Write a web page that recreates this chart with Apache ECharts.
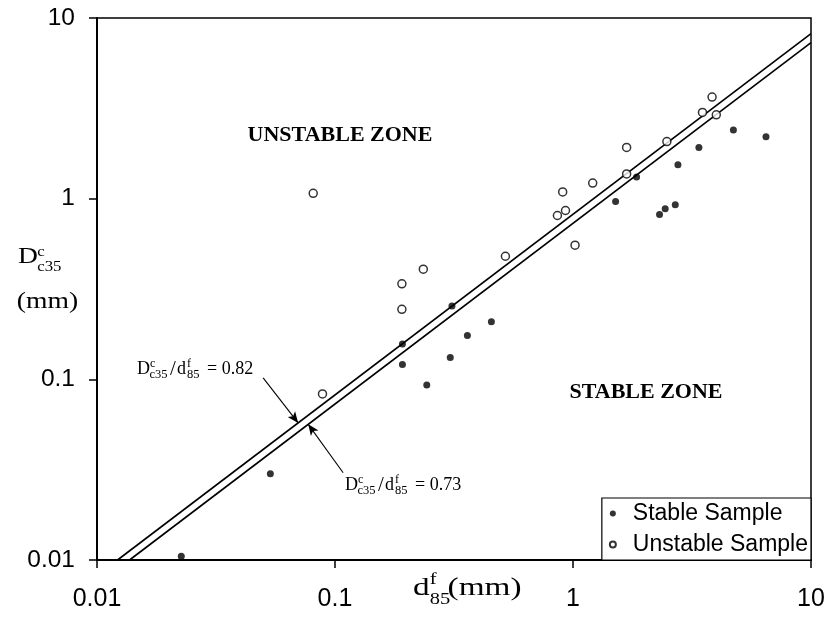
<!DOCTYPE html>
<html>
<head>
<meta charset="utf-8">
<script src="https://cdn.jsdelivr.net/npm/echarts@6/dist/echarts.min.js"></script>
<style>
  html, body { margin: 0; padding: 0; background: #fff; }
  #chart { width: 831px; height: 617px; }
</style>
</head>
<body>
<div id="chart"></div>
<script>
// Filter samples: fine-grain d85 (mm) against coarse-grain Dc35 (mm)
const stableX   = [0.0226, 0.0535, 0.192, 0.192, 0.243, 0.31, 0.305, 0.36, 0.454, 1.51, 1.85, 2.31, 2.44, 2.69, 2.76, 3.38, 4.72, 6.47];
const stableY   = [0.0105, 0.030, 0.157, 0.121, 0.093, 0.255, 0.132, 0.175, 0.208, 0.965, 1.32, 0.818, 0.88, 0.925, 1.54, 1.92, 2.40, 2.20];
const unstableX = [0.081, 0.0886, 0.191, 0.191, 0.235, 0.52, 0.86, 0.93, 0.905, 1.02, 1.21, 1.68, 1.68, 2.48, 3.50, 3.84, 4.00];
const unstableY = [1.07, 0.083, 0.338, 0.244, 0.407, 0.48, 0.807, 0.86, 1.09, 0.553, 1.22, 1.37, 1.92, 2.07, 3.00, 3.65, 2.91];

// Boundary ratios Dc35 / d85
const ratios = [0.82, 0.73];

// Axis tick labels (decades)
const xTickLabels = ['0.01', '0.1', '1', '10'];
const yTickLabels = ['0.01', '0.1', '1', '10'];

const seriesNames = ['Stable Sample', 'Unstable Sample'];

// Arrow annotations pointing at each boundary line: tail point and the x where the tip meets the line
const arrowNotes = [
  { tail: [0.0499, 0.1019], tipX: 0.070 },
  { tail: [0.1082, 0.0304], tipX: 0.0772 }
];

const SERIF = '"Liberation Serif", "Times New Roman", serif';
const SANS = '"Liberation Sans", Arial, sans-serif';
const AXIS_MIN = 0.01, AXIS_MAX = 10;

function zip(xs, ys) { return xs.map((x, i) => [x, ys[i]]); }
function decadeLabel(labels) {
  return v => labels[Math.round(Math.log10(v)) + 2] || '';
}

function t(text, x, y, size, extra) {
  return {
    type: 'text', x: x, y: y, silent: true,
    style: Object.assign({
      text: text, fontSize: size, fontFamily: SERIF, fill: '#000',
      align: 'left', verticalAlign: 'middle'
    }, extra || {})
  };
}

// "Dc35 / d85 = value" with stacked super/subscripts
function ratioLabel(x, y, value) {
  return {
    type: 'group', x: x, y: y,
    children: [
      t('D', 0, 0, 18),
      t('c', 13, -5, 12),
      t('c35', 12.5, 6, 12.5),
      t('/', 33, 0, 21),
      t('d', 40, 0, 18),
      t('f', 50, -5, 12),
      t('85', 50, 6, 12.5),
      t('= ' + value.toFixed(2), 70, 0, 18)
    ]
  };
}

const chart = echarts.init(document.getElementById('chart'), null, { renderer: 'canvas' });

const lineSeries = ratios.map((r, i) => ({
  type: 'line',
  name: 'ratio ' + r,
  data: [[AXIS_MIN / r, AXIS_MIN], [AXIS_MAX, AXIS_MAX * r]],
  showSymbol: false,
  symbol: 'none',
  lineStyle: { color: '#000', width: 1.6 },
  silent: true,
  z: 2,
  markLine: {
    silent: true,
    symbol: ['none', 'arrow'],
    symbolSize: [7, 11],
    label: { show: false },
    lineStyle: { color: '#000', width: 1.1, type: 'solid' },
    data: [[
      { coord: arrowNotes[i].tail },
      { coord: [arrowNotes[i].tipX, arrowNotes[i].tipX * r] }
    ]]
  }
}));

chart.setOption({
  animation: false,
  backgroundColor: '#fff',
  grid: {
    left: 97, right: 20, top: 18, bottom: 57,
    show: true, borderColor: '#000', borderWidth: 1.5, backgroundColor: 'transparent'
  },
  xAxis: {
    type: 'log', logBase: 10, min: AXIS_MIN, max: AXIS_MAX,
    axisLine: { show: true, lineStyle: { color: '#000', width: 2 } },
    axisTick: { show: true, inside: false, length: 8, lineStyle: { color: '#000', width: 1.5 } },
    minorTick: { show: false },
    splitLine: { show: false },
    axisLabel: {
      color: '#000', fontFamily: SANS, fontSize: 25, margin: 27,
      formatter: decadeLabel(xTickLabels)
    }
  },
  yAxis: {
    type: 'log', logBase: 10, min: AXIS_MIN, max: AXIS_MAX,
    axisLine: { show: true, lineStyle: { color: '#000', width: 2 } },
    axisTick: { show: true, inside: false, length: 8, lineStyle: { color: '#000', width: 1.5 } },
    minorTick: { show: false },
    splitLine: { show: false },
    axisLabel: {
      color: '#000', fontFamily: SANS, fontSize: 24.5, margin: 22,
      formatter: decadeLabel(yTickLabels)
    }
  },
  legend: {
    data: seriesNames,
    orient: 'vertical',
    right: 20, bottom: 57,
    padding: [4, 3, 4, 7],
    itemGap: 8,
    itemWidth: 26, itemHeight: 6,
    backgroundColor: '#fff',
    borderColor: '#000', borderWidth: 1.2, borderRadius: 0,
    textStyle: { color: '#000', fontFamily: SANS, fontSize: 23, padding: [0, 0, 0, 2] }
  },
  series: [
    ...lineSeries,
    {
      type: 'scatter', name: seriesNames[0],
      data: zip(stableX, stableY),
      symbol: 'circle', symbolSize: 7,
      itemStyle: { color: '#000' },
      z: 3
    },
    {
      type: 'scatter', name: seriesNames[1],
      data: zip(unstableX, unstableY),
      symbol: 'circle', symbolSize: 8,
      itemStyle: { color: '#fff', borderColor: '#000', borderWidth: 1.5 },
      z: 3
    }
  ],
  graphic: [
    t('UNSTABLE ZONE', 340, 135, 22, { fontWeight: 'bold', align: 'center' }),
    t('STABLE ZONE', 646, 392, 22, { fontWeight: 'bold', align: 'center' }),
    ratioLabel(137, 369, ratios[0]),
    ratioLabel(345, 485, ratios[1]),
    // y-axis title: Dc35 (mm)
    {
      type: 'group', x: 18, y: 0, scaleX: 1.2,
      children: [
        t('D', 0, 257, 23),
        t('c', 16, 252, 14),
        t('c35', 16, 267, 14),
        t('(mm)', -1, 302, 23)
      ]
    },
    // x-axis title: d85 (mm)
    {
      type: 'group', x: 413, y: 0, scaleX: 1.28,
      children: [
        t('d', 0, 588, 26),
        t('f', 13, 580, 16),
        t('85', 13, 600, 16),
        t('(mm)', 27, 588, 26)
      ]
    }
  ]
});
</script>
</body>
</html>
